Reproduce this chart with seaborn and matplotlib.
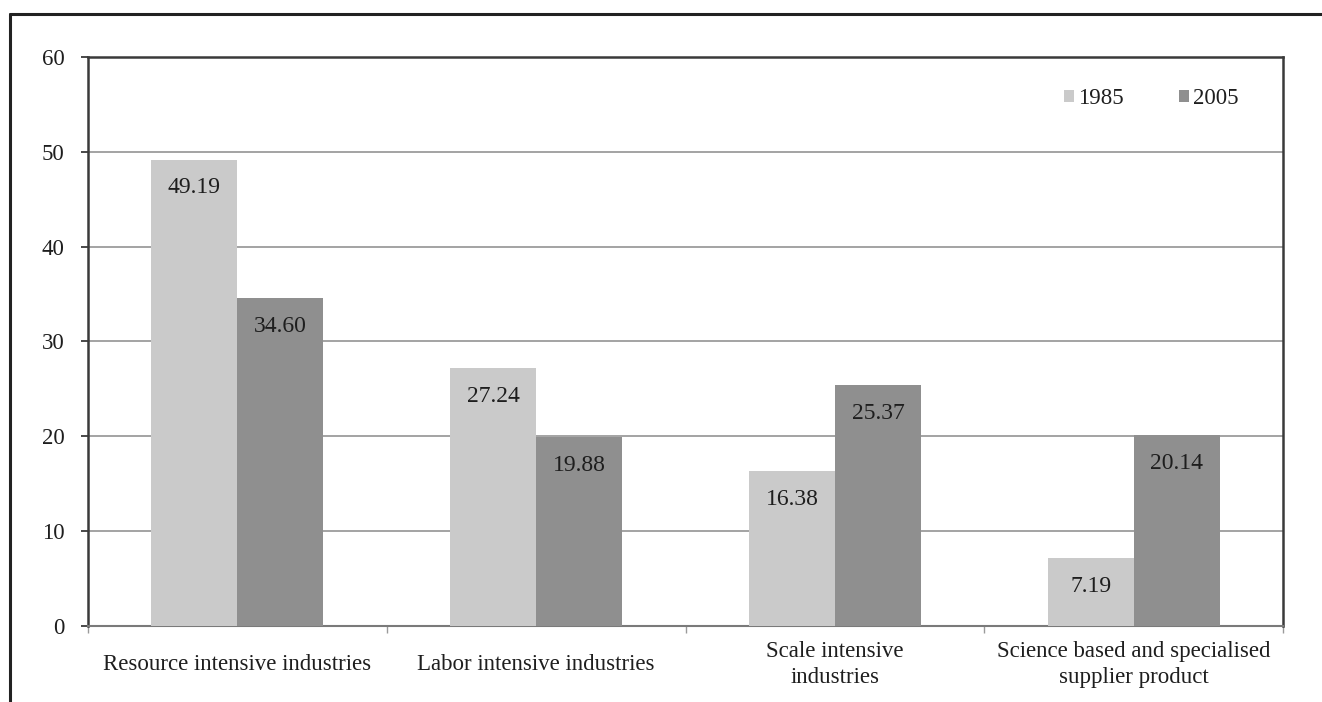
import matplotlib
matplotlib.use("Agg")
import matplotlib.pyplot as plt
from matplotlib.lines import Line2D
import seaborn as sns
import pandas as pd

# Share of exports by industry type (%)
categories = [
    "Resource intensive industries",
    "Labor intensive industries",
    "Scale intensive\nindustries",
    "Science based and specialised\nsupplier product",
]
years = ["1985", "2005"]
values_1985 = [49.19, 27.24, 16.38, 7.19]
values_2005 = [34.60, 19.88, 25.37, 20.14]
yticks = [0, 10, 20, 30, 40, 50, 60]

df = pd.DataFrame({
    "category": categories * 2,
    "year": [years[0]] * 4 + [years[1]] * 4,
    "value": values_1985 + values_2005,
})

sns.set_theme(style="white")
plt.rcParams["font.family"] = ["Liberation Serif", "DejaVu Serif"]
text_color = "#1e1e1e"

fig = plt.figure(figsize=(13.22, 7.02), dpi=100)
ax = fig.add_axes([0.0666, 0.1083, 0.9039, 0.8105])

sns.barplot(
    data=df, x="category", y="value", hue="year",
    hue_order=years, order=categories,
    palette={"1985": "#cacaca", "2005": "#8f8f8f"},
    width=0.576, saturation=1, linewidth=0, ax=ax, zorder=3,
)

# value labels inside the tops of the bars
for cont in ax.containers:
    ax.bar_label(cont, fmt="%.2f", padding=-28, fontsize=17,
                 color=text_color, zorder=4)

ax.set_ylim(0, 60)
ax.set_xlim(-0.5, 3.5)
ax.set_yticks(yticks)
ax.set_yticklabels([str(t) for t in yticks])
ax.yaxis.grid(True, color="#9c9c9c", linewidth=1.3, zorder=0)
ax.set_axisbelow(True)
ax.set_xlabel("")
ax.set_ylabel("")

for side in ["left", "top", "right"]:
    ax.spines[side].set_visible(True)
    ax.spines[side].set_color("#3a3a3a")
    ax.spines[side].set_linewidth(1.8)
ax.spines["bottom"].set_color("#7a7a7a")
ax.spines["bottom"].set_linewidth(1.5)

ax.tick_params(axis="y", which="major", left=True, length=5, width=1.3,
               color="#3a3a3a", pad=12, labelsize=16.5, labelcolor=text_color)
ax.tick_params(axis="x", which="major", bottom=True, length=0, pad=28,
               labelsize=16.5, labelcolor=text_color)
ax.set_xticks([-0.5, 0.5, 1.5, 2.5, 3.5], minor=True)
ax.tick_params(axis="x", which="minor", bottom=True, length=5, width=1.0,
               color="#9a9a9a")
for lbl in ax.get_xticklabels():
    lbl.set_va("center")
    lbl.set_multialignment("center")
    lbl.set_linespacing(1.3)

leg = ax.legend(
    title=None, frameon=False, ncol=2, fontsize=16.5,
    handlelength=0.42, handleheight=0.42, handletextpad=0.2,
    columnspacing=2.4, loc="center",
    bbox_to_anchor=(0.871, 0.860), bbox_transform=fig.transFigure,
)
for t in leg.get_texts():
    t.set_color(text_color)

# outer frame (top and left edges)
fig.add_artist(Line2D([0.0076, 1.0], [0.980, 0.980], transform=fig.transFigure,
                      color="#222222", linewidth=2.2))
fig.add_artist(Line2D([0.0076, 0.0076], [0.0, 0.980], transform=fig.transFigure,
                      color="#222222", linewidth=2.2))

fig.savefig("out.png", dpi=100, facecolor="white")
